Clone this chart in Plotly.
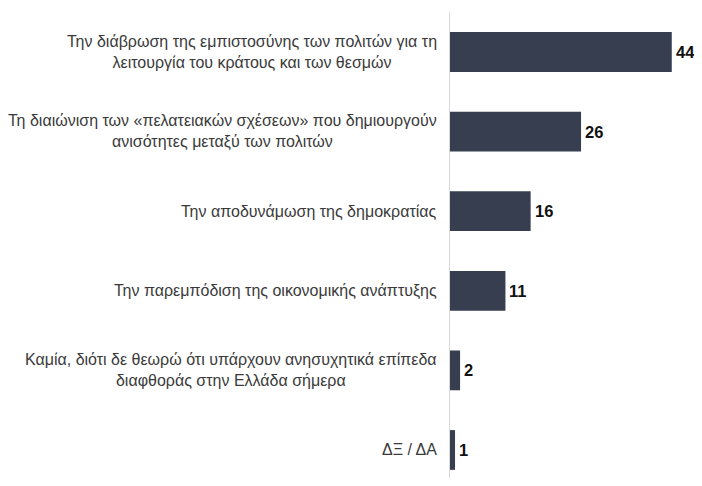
import plotly.graph_objects as go

categories = [
    "Την διάβρωση της εμπιστοσύνης των πολιτών για τη<br>λειτουργία του κράτους και των θεσμών",
    "Τη διαιώνιση των «πελατειακών σχέσεων» που δημιουργούν<br>ανισότητες μεταξύ των πολιτών",
    "Την αποδυνάμωση της δημοκρατίας",
    "Την παρεμπόδιση της οικονομικής ανάπτυξης",
    "Καμία, διότι δε θεωρώ ότι υπάρχουν ανησυχητικά επίπεδα<br>διαφθοράς στην Ελλάδα σήμερα",
    "ΔΞ / ΔΑ",
]
values = [44, 26, 16, 11, 2, 1]

bar_color = "#373e4f"
n = len(categories)
ypos = list(range(n))

fig = go.Figure()
fig.add_trace(go.Bar(
    x=values,
    y=ypos,
    orientation="h",
    width=0.5,
    marker=dict(color=bar_color, line=dict(width=0)),
    hoverinfo="skip",
))

for i, (c, v) in enumerate(zip(categories, values)):
    fig.add_annotation(
        x=0, xref="paper", y=i, yref="y",
        text=c, showarrow=False,
        xanchor="right", yanchor="middle", align="center",
        xshift=-11,
        font=dict(family="Liberation Sans, Arial, sans-serif", size=16, color="#3a3a3a"),
    )
    fig.add_annotation(
        x=v, xref="x", y=i, yref="y",
        text=str(v), showarrow=False,
        xanchor="left", yanchor="middle",
        xshift=2,
        font=dict(family="Liberation Sans, Arial, sans-serif", size=16.5, color="#111111", weight="bold"),
    )

fig.update_layout(
    width=686, height=470,
    margin=dict(l=442, r=0, t=4, b=0),
    plot_bgcolor="white", paper_bgcolor="white",
    showlegend=False,
    bargap=0.5,
)
fig.update_xaxes(range=[0, 244 / 5.04], visible=False, fixedrange=True)
fig.update_yaxes(range=[5.352, -0.5025], autorange=False, showticklabels=False,
                 showgrid=False, zeroline=False, showline=True, linecolor="#d9d9d9", linewidth=1,
                 ticks="", fixedrange=True)

fig.write_html("out.html")
